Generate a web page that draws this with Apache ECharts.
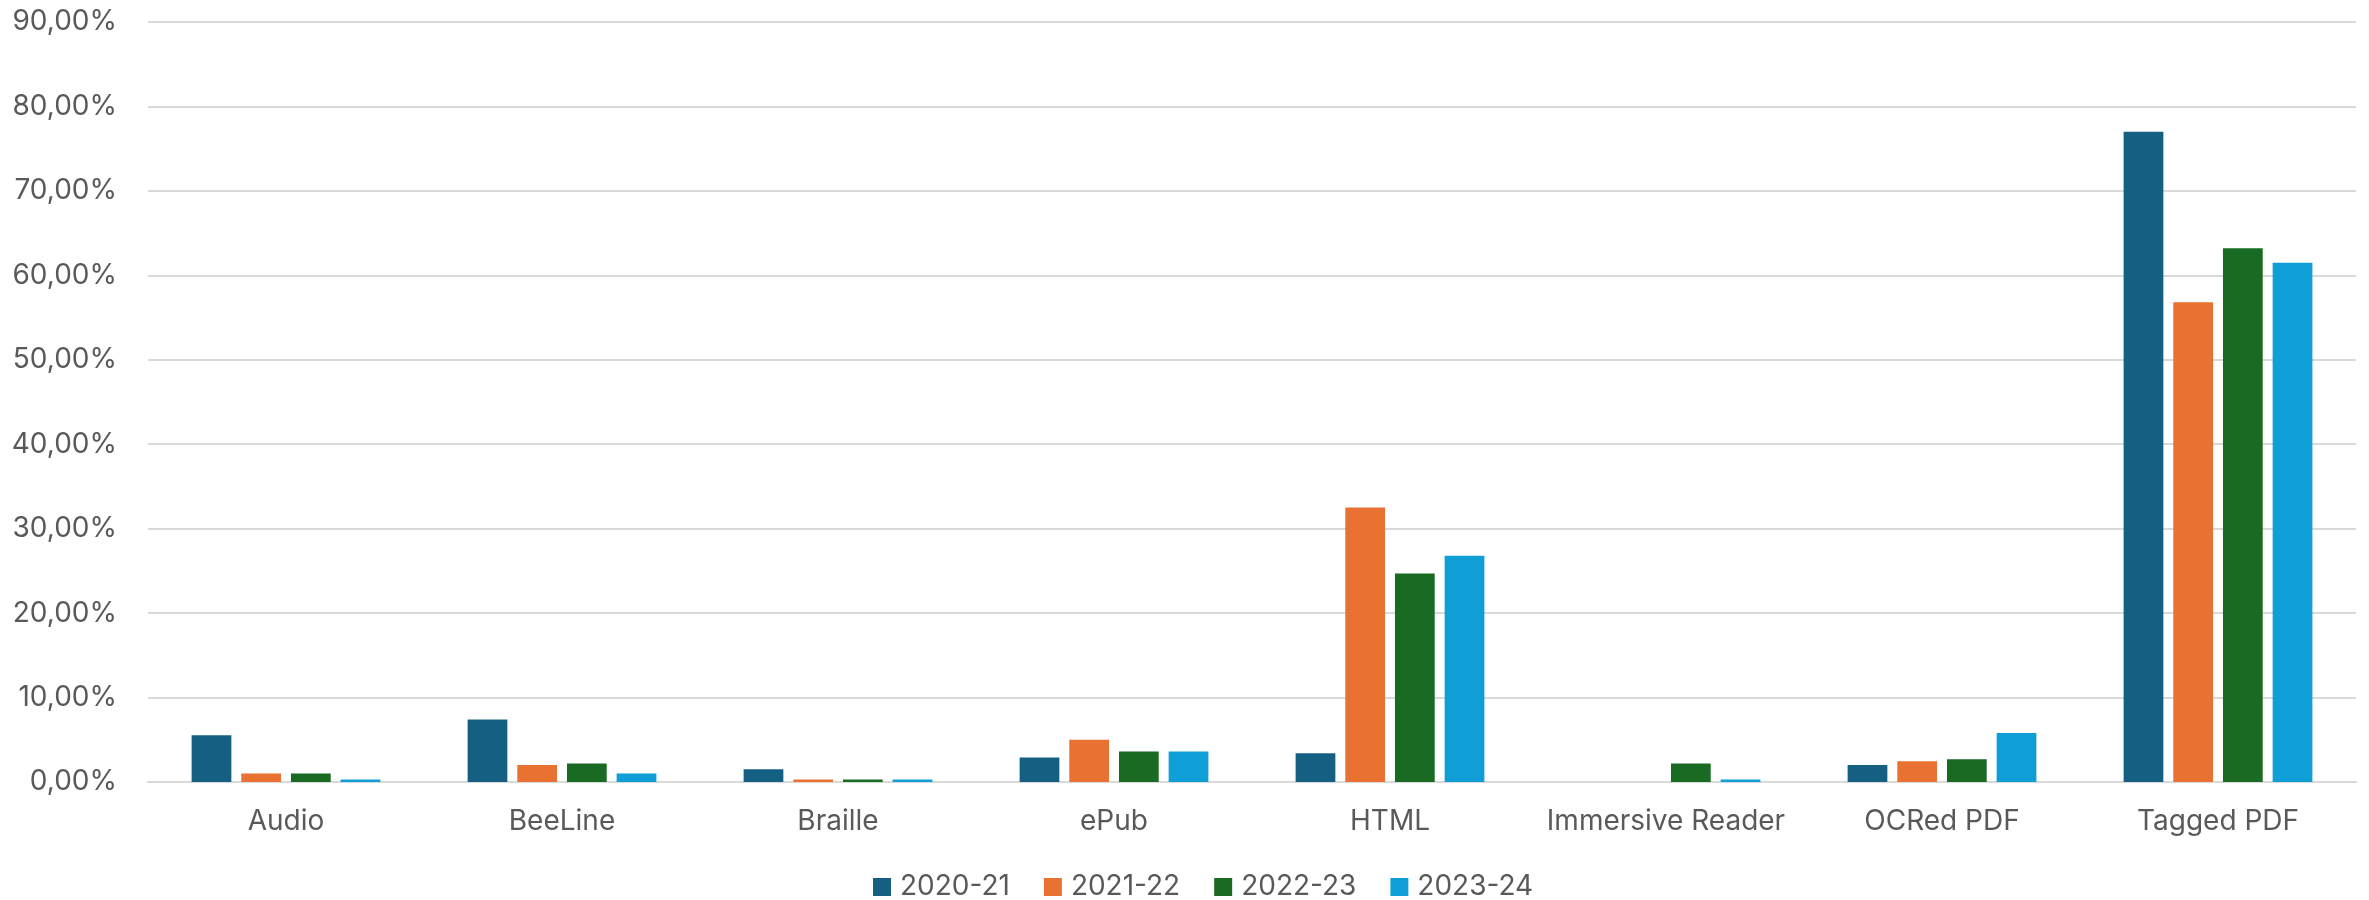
<!DOCTYPE html>
<html><head><meta charset="utf-8">
<script src="https://cdn.jsdelivr.net/npm/echarts@6/dist/echarts.min.js"></script>
<style>html,body{margin:0;padding:0;background:#fff}#c{width:2369px;height:900px}</style>
</head><body><div id="c"></div>
<script>
const categories = ['Audio','BeeLine','Braille','ePub','HTML','Immersive Reader','OCRed PDF','Tagged PDF'];
const seriesNames = ['2020-21','2021-22','2022-23','2023-24'];
const s2020 = [5.55, 7.4, 1.5, 2.9, 3.4, 0, 2.0, 77.0];
const s2021 = [1.0, 2.0, 0.3, 5.0, 32.5, 0, 2.45, 56.8];
const s2022 = [1.0, 2.2, 0.3, 3.6, 24.7, 2.2, 2.7, 63.2];
const s2023 = [0.3, 1.0, 0.3, 3.6, 26.8, 0.3, 5.8, 61.5];
const colors = ['#156082','#E97132','#196B24','#0F9ED5'];
const allData = [s2020, s2021, s2022, s2023];
const FONT = 'Inter';
const chart = echarts.init(document.getElementById('c'));
chart.setOption({
  animation: false,
  color: colors,
  grid: {left: 148, right: 13, top: 22, bottom: 118, containLabel: false},
  legend: {
    left: 868, top: 868, itemWidth: 18, itemHeight: 18, itemGap: 34,
    icon: 'rect',
    textStyle: {fontFamily: FONT, fontSize: 28, color: '#595959', padding: [0,0,0,4]},
    data: seriesNames
  },
  xAxis: {
    type: 'category', data: categories,
    axisLine: {show: true, lineStyle: {color: '#D9D9D9', width: 2}},
    axisTick: {show: false},
    axisLabel: {fontFamily: FONT, fontSize: 28, color: '#595959', margin: 26, interval: 0}
  },
  yAxis: {
    type: 'value', min: 0, max: 90, interval: 10,
    axisLine: {show: false}, axisTick: {show: false},
    splitLine: {lineStyle: {color: '#D9D9D9', width: 2}},
    axisLabel: {fontFamily: FONT, fontSize: 28, color: '#595959', margin: 31,
      formatter: v => v.toFixed(2).replace('.', ',') + '%'}
  },
  series: seriesNames.map((n, i) => ({
    name: n, type: 'bar', data: allData[i],
    barGap: '25%', barCategoryGap: '31.6%',
    itemStyle: {color: colors[i]}
  }))
});
</script></body></html>
